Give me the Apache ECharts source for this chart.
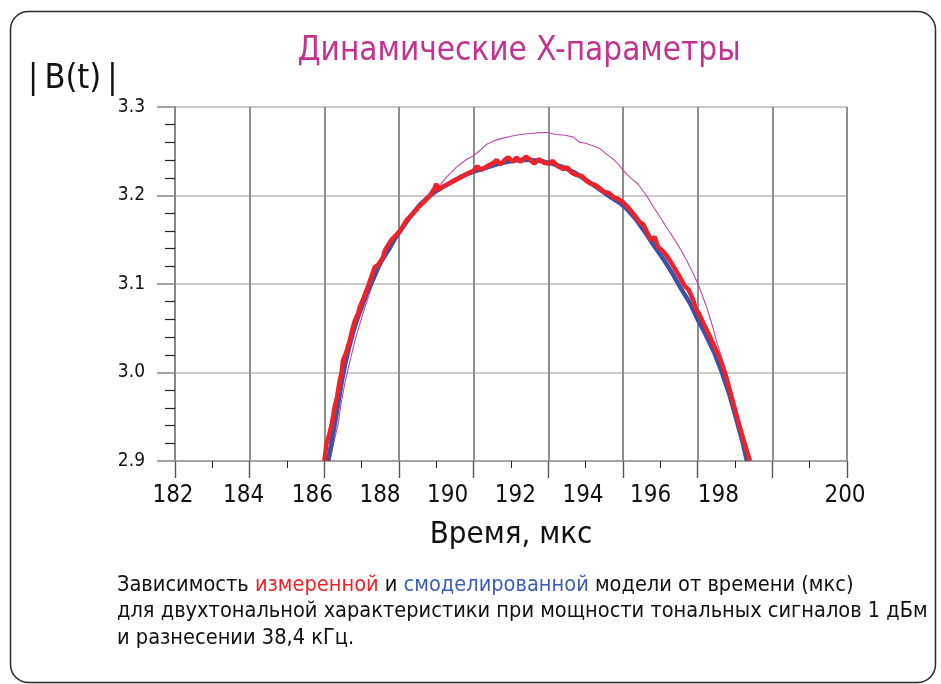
<!DOCTYPE html>
<html>
<head>
<meta charset="utf-8">
<script src="https://cdn.jsdelivr.net/npm/echarts@6/dist/echarts.min.js"></script>
<style>
html,body{margin:0;padding:0;background:#fff;}
#chart{width:941px;height:684px;}
</style>
</head>
<body>
<div id="chart"></div>
<script>
// ---- data ----
const xTicks = [182, 184, 186, 188, 190, 192, 194, 196, 198, 200];
const yTicks = [2.9, 3.0, 3.1, 3.2, 3.3];

// measured (red)
const measured = [
  [186.00,2.900],[186.06,2.920],[186.12,2.928],[186.20,2.942],[186.28,2.962],[186.34,2.972],
  [186.40,2.988],[186.46,3.000],[186.50,3.014],[186.58,3.022],[186.68,3.036],[186.74,3.047],
  [186.82,3.059],[186.90,3.066],[186.95,3.074],[187.05,3.084],[187.17,3.097],[187.25,3.107],
  [187.35,3.119],[187.45,3.122],[187.57,3.130],[187.62,3.138],[187.80,3.150],[188.03,3.160],
  [188.20,3.172],[188.38,3.180],[188.55,3.188],[188.70,3.194],[188.83,3.200],[188.95,3.208],
  [189.00,3.213],[189.05,3.206],[189.15,3.209],[189.27,3.212],[189.45,3.216],[189.63,3.220],
  [189.80,3.224],[189.99,3.228],[190.10,3.233],[190.20,3.229],[190.35,3.233],[190.50,3.236],
  [190.62,3.240],[190.71,3.235],[190.85,3.241],[190.93,3.243],[191.05,3.238],[191.15,3.243],
  [191.25,3.238],[191.40,3.244],[191.50,3.241],[191.62,3.236],[191.75,3.241],[191.88,3.237],
  [192.00,3.236],[192.12,3.239],[192.25,3.233],[192.40,3.230],[192.50,3.232],[192.62,3.226],
  [192.76,3.223],[192.90,3.222],[193.00,3.217],[193.11,3.214],[193.25,3.212],[193.38,3.208],
  [193.50,3.204],[193.62,3.203],[193.75,3.198],[193.88,3.196],[194.01,3.192],[194.15,3.186],
  [194.30,3.178],[194.45,3.170],[194.55,3.167],[194.63,3.160],[194.75,3.150],[194.85,3.153],
  [194.94,3.142],[195.05,3.138],[195.15,3.133],[195.25,3.127],[195.38,3.118],[195.52,3.108],
  [195.65,3.098],[195.75,3.094],[195.88,3.082],[195.95,3.072],[196.03,3.067],[196.15,3.056],
  [196.28,3.045],[196.41,3.033],[196.55,3.020],[196.68,3.006],[196.78,2.993],[196.86,2.980],
  [196.97,2.963],[197.08,2.946],[197.20,2.928],[197.30,2.914],[197.40,2.900]
];

// modelled (blue)
const modelled = [
  [186.10,2.900],[186.18,2.918],[186.28,2.942],[186.36,2.962],[186.46,2.988],[186.56,3.010],
  [186.66,3.028],[186.76,3.044],[186.88,3.060],[187.00,3.074],[187.12,3.088],[187.22,3.097],
  [187.35,3.110],[187.50,3.124],[187.71,3.138],[187.90,3.152],[188.10,3.164],[188.30,3.176],
  [188.55,3.189],[188.83,3.200],[189.10,3.208],[189.40,3.215],[189.70,3.222],[190.00,3.227],
  [190.30,3.231],[190.60,3.235],[190.90,3.238],[191.20,3.240],[191.50,3.240],[191.80,3.239],
  [192.10,3.236],[192.40,3.232],[192.70,3.226],[193.00,3.218],[193.30,3.209],[193.60,3.200],
  [193.90,3.192],[194.10,3.185],[194.35,3.173],[194.60,3.158],[194.85,3.142],[195.10,3.127],
  [195.35,3.110],[195.55,3.095],[195.80,3.078],[196.00,3.060],[196.20,3.044],[196.45,3.022],
  [196.65,3.000],[196.85,2.975],[197.05,2.945],[197.20,2.922],[197.32,2.900]
];

// thin magenta trace
const staticTrace = [
  [186.15,2.900],[186.25,2.920],[186.37,2.942],[186.45,2.965],[186.55,2.988],[186.68,3.012],
  [186.82,3.036],[186.95,3.055],[187.09,3.074],[187.27,3.097],[187.45,3.115],[187.60,3.128],
  [187.76,3.138],[187.95,3.152],[188.15,3.165],[188.40,3.180],[188.65,3.192],[188.92,3.200],
  [189.10,3.212],[189.30,3.222],[189.54,3.232],[189.81,3.241],[190.00,3.245],[190.20,3.252],
  [190.35,3.258],[190.55,3.262],[190.71,3.264],[191.00,3.267],[191.25,3.269],[191.50,3.270],
  [191.80,3.271],[192.00,3.271],[192.20,3.269],[192.45,3.268],[192.67,3.266],[192.84,3.260],
  [193.00,3.259],[193.20,3.256],[193.38,3.253],[193.55,3.247],[193.74,3.241],[193.90,3.234],
  [194.01,3.228],[194.20,3.220],[194.40,3.213],[194.63,3.200],[194.80,3.188],[194.99,3.176],
  [195.15,3.165],[195.34,3.153],[195.50,3.142],[195.70,3.127],[195.88,3.112],[196.03,3.098],
  [196.24,3.074],[196.40,3.052],[196.50,3.036],[196.65,3.016],[196.77,2.999],[196.90,2.975],
  [197.04,2.950],[197.18,2.925],[197.30,2.903]
];

const titleText = 'Динамические X-параметры';
const yName = '|\u2009B(t)\u2009|';
const xName = 'Время, мкс';
const caption1a = 'Зависимость ';
const caption1b = 'измеренной';
const caption1c = ' и ';
const caption1d = 'смоделированной';
const caption1e = ' модели от времени (мкс)';
const caption2 = 'для двухтональной характеристики при мощности тональных сигналов 1 дБм';
const caption3 = 'и разнесении 38,4 кГц.';

// ---- styling ----
const NARROW = "'Liberation Sans Narrow','Arial Narrow','DejaVu Sans Condensed',Roboto,sans-serif";
const RED = '#ec2329', BLUE = '#3c52a8', MAG = '#bb4aa8', TITLE = '#c2338f';
const CAP = 21.6;

// label shifts (px to the left) to mimic the reference's label placement
const labelShift = [2, 6, 12, 19, 26, 33, 40, 47, 54, 2];
const xRich = {};
labelShift.forEach((s, i) => {
  xRich['s' + i] = { fontFamily: NARROW, fontSize: 24, color: '#111', padding: [0, 2 * s, 0, 0] };
});

const chart = echarts.init(document.getElementById('chart'), null, { renderer: 'canvas' });
chart.setOption({
  backgroundColor: '#fff',
  animation: false,
  title: {
    text: titleText, left: 514, top: 30, textAlign: 'center',
    textStyle: { fontFamily: NARROW, fontSize: 33, fontWeight: 'normal', color: TITLE }
  },
  grid: { left: 175, right: 94, top: 107, bottom: 223 },
  xAxis: {
    type: 'value', min: xTicks[0], max: xTicks[xTicks.length - 1], interval: 2,
    axisLine: { show: true, onZero: false, lineStyle: { color: '#9a9a9a', width: 1.5 } },
    axisTick: { show: true, length: 17, lineStyle: { color: '#555', width: 1.4 } },
    minorTick: { show: true, splitNumber: 2, length: 7, lineStyle: { color: '#222', width: 1 } },
    splitLine: { show: true, lineStyle: { color: '#8e8e8e', width: 2 } },
    axisLabel: {
      margin: 23, showMinLabel: true, showMaxLabel: true, hideOverlap: false,
      formatter: function (v) {
        const i = xTicks.indexOf(Math.round(v));
        return '{s' + (i < 0 ? 0 : i) + '|' + Math.round(v) + '}';
      },
      rich: xRich
    },
    name: xName, nameLocation: 'middle', nameGap: 58,
    nameTextStyle: { fontFamily: NARROW, fontSize: 31, color: '#111' }
  },
  yAxis: {
    type: 'value', min: yTicks[0], max: yTicks[yTicks.length - 1], interval: 0.1,
    axisLine: { show: true, onZero: false, lineStyle: { color: '#888', width: 2 } },
    axisTick: { show: true, length: 18, lineStyle: { color: '#888', width: 1.5 } },
    minorTick: { show: true, splitNumber: 5, length: 10, lineStyle: { color: '#222', width: 1.2 } },
    splitLine: { show: true, lineStyle: { color: '#b8b8b8', width: 1.5 } },
    axisLabel: {
      margin: 30, color: '#111', fontFamily: NARROW, fontSize: 19,
      showMinLabel: true, showMaxLabel: true,
      formatter: v => v.toFixed(1)
    }
  },
  series: [
    { name: 'static', type: 'line', data: staticTrace, showSymbol: false, symbol: 'none',
      lineStyle: { color: MAG, width: 1.1 }, z: 2 },
    { name: 'model', type: 'line', data: modelled, showSymbol: false, symbol: 'none',
      lineStyle: { color: BLUE, width: 4.5 }, z: 3 },
    { name: 'measured', type: 'line', data: measured, showSymbol: false, symbol: 'none',
      lineStyle: { color: RED, width: 4.5 }, z: 4 }
  ],
  graphic: [
    { type: 'rect', left: 8, top: 9, shape: { width: 925, height: 671, r: 18 }, silent: true,
      style: { fill: 'none', stroke: '#2a2a2a', lineWidth: 1.5 }, z: -1 },
    { type: 'text', left: 28, top: 62,
      style: { text: yName, fontFamily: NARROW, fontSize: 34, fill: '#111' } },
    { type: 'text', left: 117, top: 572,
      style: {
        text: caption1a + '{r|' + caption1b + '}' + caption1c + '{b|' + caption1d + '}' + caption1e + '\n' + caption2 + '\n' + caption3,
        fontFamily: NARROW, fontSize: CAP, fill: '#111', lineHeight: 26.5,
        rich: {
          r: { fontFamily: NARROW, fontSize: CAP, fill: RED, color: RED, lineHeight: 26.5 },
          b: { fontFamily: NARROW, fontSize: CAP, fill: '#3a5fb5', color: '#3a5fb5', lineHeight: 26.5 }
        }
      } }
  ]
});
</script>
</body>
</html>
